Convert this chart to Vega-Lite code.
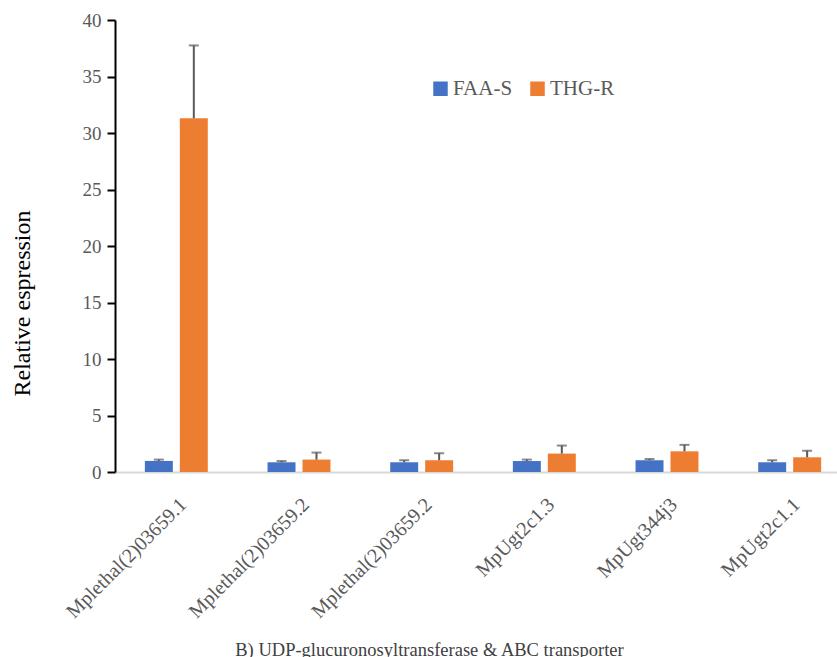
{
  "$schema": "https://vega.github.io/schema/vega-lite/v6.json",
  "width": 736,
  "height": 452,
  "padding": {"left": 10, "top": 11, "right": 0, "bottom": 0},
  "background": "white",
  "config": {
    "view": {"stroke": null},
    "font": "Liberation Serif",
    "axis": {"grid": false, "labelFont": "Liberation Serif", "titleFont": "Liberation Serif"},
    "legend": {"labelFont": "Liberation Serif"}
  },
  "data": {
    "values": [
      {"pos": 1, "gene": "Mplethal(2)03659.1", "line": "FAA-S", "mean": 0.98, "upper": 1.1},
      {"pos": 1, "gene": "Mplethal(2)03659.1", "line": "THG-R", "mean": 31.3, "upper": 37.75},
      {"pos": 2, "gene": "Mplethal(2)03659.2", "line": "FAA-S", "mean": 0.86, "upper": 0.97},
      {"pos": 2, "gene": "Mplethal(2)03659.2", "line": "THG-R", "mean": 1.1, "upper": 1.72},
      {"pos": 3, "gene": "Mplethal(2)03659.2", "line": "FAA-S", "mean": 0.86, "upper": 1.04},
      {"pos": 3, "gene": "Mplethal(2)03659.2", "line": "THG-R", "mean": 1.04, "upper": 1.66},
      {"pos": 4, "gene": "MpUgt2c1.3", "line": "FAA-S", "mean": 0.97, "upper": 1.1},
      {"pos": 4, "gene": "MpUgt2c1.3", "line": "THG-R", "mean": 1.63, "upper": 2.34},
      {"pos": 5, "gene": "MpUgt344j3", "line": "FAA-S", "mean": 1.04, "upper": 1.15},
      {"pos": 5, "gene": "MpUgt344j3", "line": "THG-R", "mean": 1.83, "upper": 2.4},
      {"pos": 6, "gene": "MpUgt2c1.1", "line": "FAA-S", "mean": 0.86, "upper": 1.04},
      {"pos": 6, "gene": "MpUgt2c1.1", "line": "THG-R", "mean": 1.3, "upper": 1.88}
    ]
  },
  "encoding": {
    "x": {
      "field": "pos",
      "type": "ordinal",
      "scale": {"paddingInner": 0.487, "paddingOuter": 0.2435},
      "axis": {
        "title": "B) UDP-glucuronosyltransferase & ABC transporter",
        "titleFontSize": 18.5,
        "titleFontWeight": "normal",
        "titleColor": "#404040",
        "titleX": 314,
        "titleY": 183,
        "titleBaseline": "alphabetic",
        "labelExpr": "['Mplethal(2)03659.1','Mplethal(2)03659.2','Mplethal(2)03659.2','MpUgt2c1.3','MpUgt344j3','MpUgt2c1.1'][datum.value - 1]",
        "labelAngle": -45,
        "labelAlign": "right",
        "labelBaseline": "top",
        "labelFontSize": 20,
        "labelColor": "#595959",
        "labelPadding": 22,
        "ticks": false,
        "domainColor": "#d9d9d9",
        "domainWidth": 2
      }
    },
    "xOffset": {
      "field": "line",
      "type": "nominal",
      "scale": {"paddingInner": 0.2, "paddingOuter": 0}
    }
  },
  "layer": [
    {
      "mark": {"type": "bar"},
      "encoding": {
        "y": {
          "field": "mean",
          "type": "quantitative",
          "scale": {"domain": [0, 40]},
          "axis": {
            "title": "Relative espression",
            "titleFontSize": 24,
            "titleFontWeight": "normal",
            "titleColor": "black",
            "titleX": -86,
            "titleY": 283,
            "titleBaseline": "alphabetic",
            "values": [0, 5, 10, 15, 20, 25, 30, 35, 40],
            "labelFontSize": 19,
            "labelColor": "#595959",
            "labelPadding": 6,
            "tickColor": "black",
            "tickWidth": 2,
            "tickSize": 8,
            "domainColor": "black",
            "domainWidth": 2
          }
        },
        "color": {
          "field": "line",
          "type": "nominal",
          "scale": {"domain": ["FAA-S", "THG-R"], "range": ["#4472C4", "#ED7D31"]},
          "legend": {
            "title": null,
            "orient": "none",
            "direction": "horizontal",
            "legendX": 315,
            "legendY": 58,
            "symbolType": "square",
            "symbolSize": 210,
            "symbolStrokeWidth": 0,
            "labelFontSize": 21,
            "labelColor": "#595959",
            "labelOffset": 2,
            "columnPadding": 14
          }
        }
      }
    },
    {
      "mark": {"type": "rule", "color": "#595959", "strokeWidth": 2},
      "encoding": {
        "y": {"field": "mean", "type": "quantitative"},
        "y2": {"field": "upper"}
      }
    },
    {
      "mark": {"type": "tick", "color": "#595959", "thickness": 2, "size": 10},
      "encoding": {
        "y": {"field": "upper", "type": "quantitative"}
      }
    }
  ]
}
